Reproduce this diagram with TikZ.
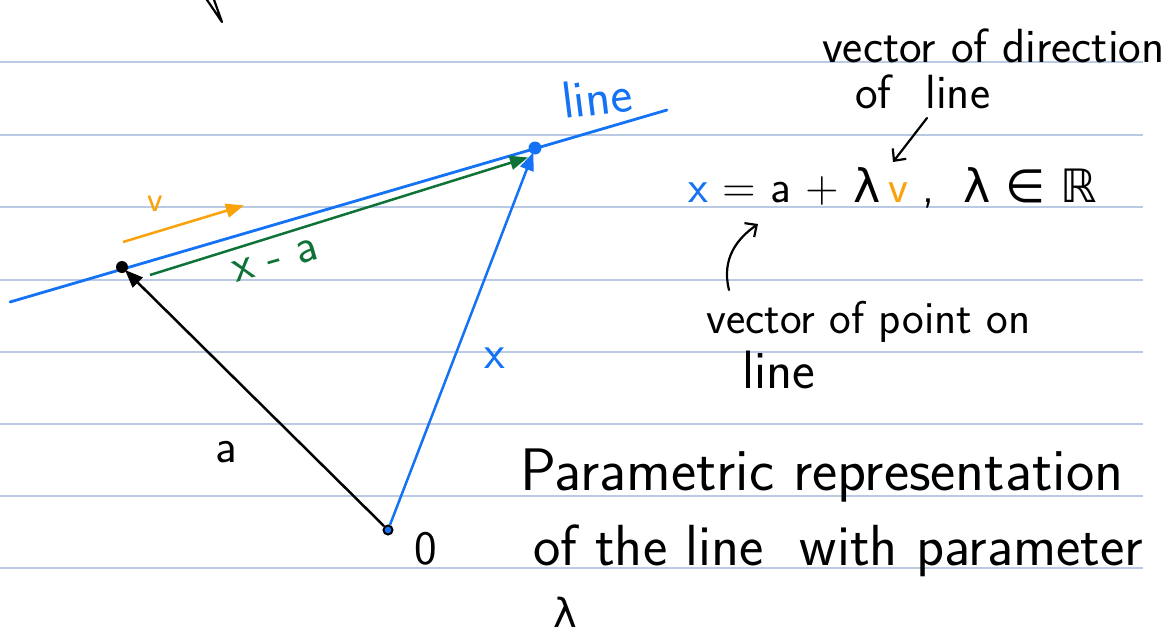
\documentclass[tikz,border=0pt]{standalone}
\usepackage{fontspec}
\newfontfamily\symfont{DejaVu Sans}
\usetikzlibrary{arrows.meta, calc, positioning}

\definecolor{lineblue}{RGB}{20,115,245}
\definecolor{dirorange}{RGB}{250,162,10}
\definecolor{diffgreen}{RGB}{15,115,55}
\definecolor{rulegray}{RGB}{185,202,226}

\begin{document}
\begin{tikzpicture}[x=1pt, y=-1pt, >=Stealth]

% --- Styles ---
\tikzset{
    ruleLine/.style={rulegray, line width=1.4pt},
    lineBlue/.style={lineblue, line width=2.8pt, line cap=round},
    vecArrow/.style={-{Triangle[length=18pt, width=14pt]}, line width=2.5pt, shorten >=-2pt},
    noteArrow/.style={-{Straight Barb[length=9pt, width=17pt, line width=2.2pt]}, black, line width=2.2pt, line cap=round},
    dotA/.style={circle, fill=black, inner sep=0pt, minimum size=12pt},
    dotX/.style={circle, fill=lineblue, inner sep=0pt, minimum size=13pt},
    dotO/.style={circle, draw=black, fill=lineblue, line width=2pt, inner sep=0pt, minimum size=9pt},
    hand/.style={font=\sffamily\fontsize{48}{56}\selectfont, inner sep=0pt, anchor=base west},
    handMid/.style={hand, font=\sffamily\fontsize{46}{54}\selectfont},
    handBig/.style={hand, font=\sffamily\fontsize{60}{70}\selectfont},
    handSmall/.style={hand, font=\sffamily\fontsize{36}{42}\selectfont},
}

% --- Page ---
\useasboundingbox (0,0) rectangle (1166,637);
\fill[white] (0,0) rectangle (1166,637);
\foreach \y in {62,135,207,280,352,424,496,568}
    \draw[ruleLine] (0,\y) -- (1143,\y);

% fragment of an earlier arrow at the top
\draw[black, line width=2.2pt, line cap=round, line join=round] (205,-3) -- (222,22) -- (213,-3);

% --- The line and its points ---
\coordinate (lineStart) at (10,302);
\coordinate (lineEnd) at (667,110);
\draw[lineBlue] (lineStart) -- (lineEnd);

\node[dotO] (pO) at (388,530) {};
\node[dotA] (pA) at (122,267) {};
\node[dotX] (pX) at (535,148) {};

% --- Vectors ---
\draw[vecArrow, black] (pO) -- (pA);
\draw[vecArrow, lineblue] (pO) -- (pX);

\coordinate (diffStart) at (150,275);
\coordinate (diffEnd) at (526,158);
\draw[vecArrow, diffgreen] (diffStart) -- (diffEnd);

\coordinate (dirStart) at (123,242);
\coordinate (dirEnd) at (242,206);
\draw[vecArrow, dirorange] (dirStart) -- (dirEnd);

% --- Labels on the drawing ---
\node[hand, lineblue, rotate=7, font=\sffamily\fontsize{52}{60}\selectfont] (lblLine) at (564,119) {line};
\node[handSmall, dirorange] (lblV) at (147,211) {v};
\node[hand, diffgreen, rotate=16] (lblDiff) at (236,283) {x - a};
\node[hand] (lblA) at (215,462) {a};
\node[hand, lineblue] (lblX) at (484,368) {x};
\node[hand] (lblO) at (414,564) {0};

% --- Equation and notes ---
\node[handMid] (eqLine) at (688,202)
    {{\color{lineblue}x} = a + {\symfont λ}\,{\color{dirorange}v} , \ {\symfont λ ∈ ℝ}};

\node[hand] (noteDir1) at (822,62) {vector of direction};
\node[hand] (noteDir2) at (855,108) {of\hspace{34pt}line};
\coordinate (dirTail) at (927,118);
\coordinate (dirHead) at (893,162);
\draw[noteArrow] (dirTail) -- (dirHead);

\node[handMid] (notePt1) at (706,333) {vector of point on};
\node[hand, font=\sffamily\fontsize{54}{60}\selectfont] (notePt2) at (742,388) {line};
\coordinate (ptTail) at (729,290);
\coordinate (ptHead) at (758,224);
\draw[noteArrow] (ptTail) .. controls (721,258) and (738,238) .. (ptHead);

\node[handBig] (title1) at (520,490) {Parametric representation};
\node[handBig, font=\sffamily\fontsize{58}{68}\selectfont] (title2) at (533,565) {of the line \ with parameter};
\node[hand, font=\symfont\fontsize{40}{46}\selectfont] (title3) at (553,627) {λ};

\end{tikzpicture}
\end{document}
